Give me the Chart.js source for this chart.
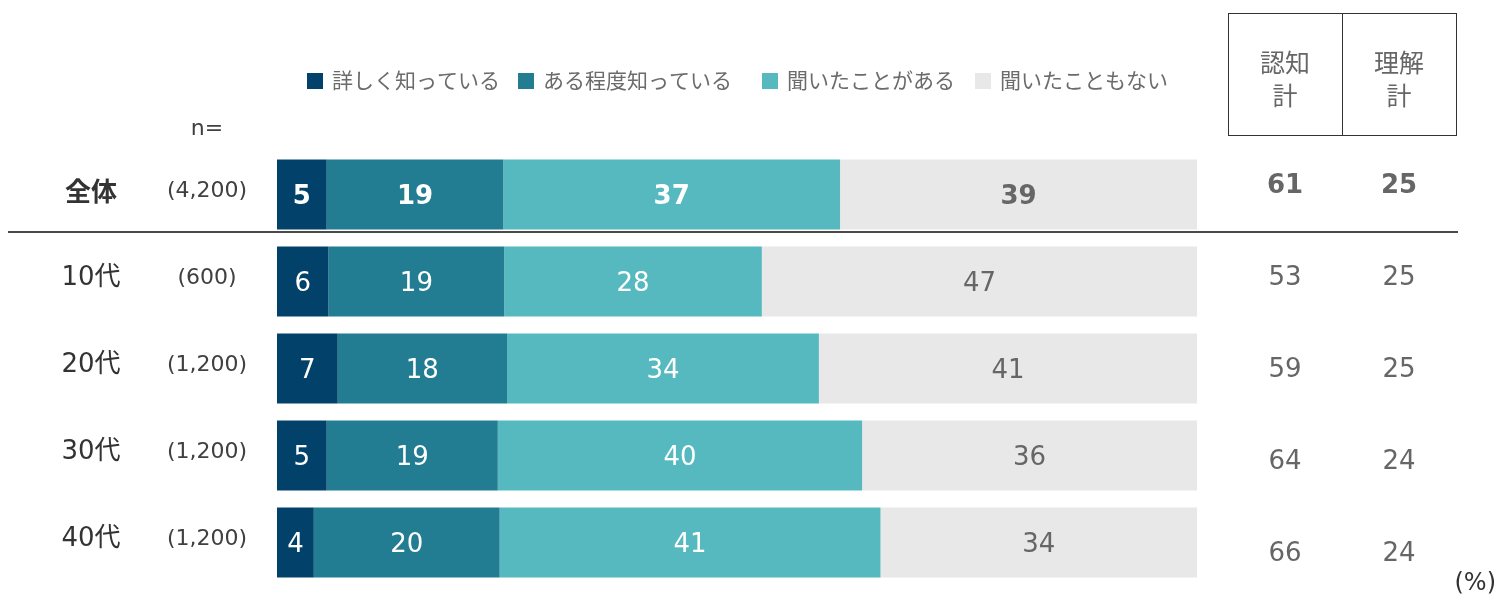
<!DOCTYPE html>
<html lang="ja">
<head>
<meta charset="utf-8">
<script src="https://cdn.jsdelivr.net/npm/chart.js@4"></script>
<style>
  body { margin: 0; background: #fff; }
  #wrap { position: relative; width: 1498px; height: 598px; }
</style>
</head>
<body>
<div id="wrap"><canvas id="chart"></canvas></div>
<script>
// rows
const categories = ["全体", "10代", "20代", "30代", "40代"];
const sampleSizes = ["(4,200)", "(600)", "(1,200)", "(1,200)", "(1,200)"];

// series (%), widths, labels shown rounded
const seriesNames = ["詳しく知っている", "ある程度知っている", "聞いたことがある", "聞いたこともない"];
const knowWell = [5.4, 5.6, 6.6, 5.4, 4.0];
const knowSome = [19.2, 19.1, 18.4, 18.6, 20.2];
const heardOf = [36.6, 28.0, 33.9, 39.6, 41.4];
const neverHeard = [38.8, 47.3, 41.1, 36.4, 34.4];

// right-hand columns
const totalHeaders = [["認知", "計"], ["理解", "計"]];
const awareTotal = [61, 53, 59, 64, 66];
const understandTotal = [25, 25, 25, 24, 24];

const colors = ["#02426A", "#227C92", "#55B9BF", "#E8E8E8"];
const labelColors = ["#ffffff", "#ffffff", "#ffffff", "#666666"];

const LATIN = '"DejaVu Sans", "Noto Sans CJK JP", sans-serif';
const CJK = '"Noto Sans CJK JP", "DejaVu Sans", sans-serif';

const barLabels = {
  id: "barLabels",
  afterDatasetsDraw(chart) {
    const ctx = chart.ctx;
    ctx.save();
    ctx.textAlign = "center";
    ctx.textBaseline = "middle";
    chart.data.datasets.forEach((ds, di) => {
      const meta = chart.getDatasetMeta(di);
      meta.data.forEach((bar, i) => {
        const bold = i === 0;
        ctx.font = (bold ? "bold 26px " : "26px ") + LATIN;
        ctx.fillStyle = labelColors[di];
        ctx.fillText(String(Math.round(ds.data[i])), (bar.x + bar.base) / 2, bar.y + 3);
      });
    });
    ctx.restore();
  }
};

const decorations = {
  id: "decorations",
  afterDraw(chart) {
    const ctx = chart.ctx;
    const y = chart.scales.y;
    ctx.save();

    // legend
    const legendX = [307, 518, 762, 975];
    ctx.textBaseline = "middle";
    ctx.textAlign = "left";
    ctx.font = "21px " + CJK;
    seriesNames.forEach((name, k) => {
      ctx.fillStyle = colors[k];
      ctx.fillRect(legendX[k], 73, 16, 16);
      ctx.fillStyle = "#6b6b6b";
      ctx.fillText(name, legendX[k] + 25, 80);
    });

    // n=
    ctx.textAlign = "center";
    ctx.fillStyle = "#404040";
    ctx.font = "22px " + LATIN;
    ctx.fillText("n=", 207, 129);

    // row labels and sample sizes
    categories.forEach((cat, i) => {
      const cy = y.getPixelForValue(i) - 3;
      ctx.fillStyle = "#333333";
      ctx.font = (i === 0 ? "bold 26px " + CJK : "26px " + LATIN);
      ctx.fillText(cat, 91, cy);
      ctx.fillStyle = "#404040";
      ctx.font = "22px " + LATIN;
      ctx.fillText(sampleSizes[i], 207, cy);
    });

    // header box
    ctx.strokeStyle = "#333333";
    ctx.lineWidth = 1;
    ctx.strokeRect(1228.5, 13.5, 228, 122);
    ctx.beginPath();
    ctx.moveTo(1342.5, 13.5);
    ctx.lineTo(1342.5, 135.5);
    ctx.stroke();
    ctx.fillStyle = "#666666";
    ctx.font = "25px " + CJK;
    [1285, 1399].forEach((cx, k) => {
      ctx.fillText(totalHeaders[k][0], cx, 62);
      ctx.fillText(totalHeaders[k][1], cx, 95);
    });

    // totals
    categories.forEach((cat, i) => {
      const cy = y.getPixelForValue(i) + (i * 5 - 8);
      ctx.fillStyle = "#666666";
      ctx.font = (i === 0 ? "bold 26px " : "26px ") + LATIN;
      ctx.fillText(String(awareTotal[i]), 1285, cy);
      ctx.fillText(String(understandTotal[i]), 1399, cy);
    });

    // separator under 全体
    const sepY = (y.getPixelForValue(0) + y.getPixelForValue(1)) / 2 - 6;
    ctx.strokeStyle = "#4a4a4a";
    ctx.lineWidth = 2;
    ctx.beginPath();
    ctx.moveTo(8, sepY);
    ctx.lineTo(1458, sepY);
    ctx.stroke();

    // unit
    ctx.fillStyle = "#333333";
    ctx.font = "24px " + LATIN;
    ctx.textAlign = "right";
    ctx.fillText("(%)", 1496, 584);

    ctx.restore();
  }
};

const seriesData = [knowWell, knowSome, heardOf, neverHeard];

new Chart(document.getElementById("chart"), {
  type: "bar",
  data: {
    labels: categories,
    datasets: seriesNames.map((name, k) => ({
      label: name,
      data: seriesData[k],
      backgroundColor: colors[k],
      borderWidth: 0,
      barPercentage: 0.805,
      categoryPercentage: 1
    }))
  },
  options: {
    indexAxis: "y",
    responsive: true,
    maintainAspectRatio: false,
    animation: false,
    layout: { padding: { left: 277, right: 301, top: 151, bottom: 12 } },
    scales: {
      x: { stacked: true, min: 0, max: 100, display: false },
      y: { stacked: true, display: false }
    },
    plugins: {
      legend: { display: false },
      tooltip: { enabled: false }
    }
  },
  plugins: [barLabels, decorations]
});
</script>
</body>
</html>
